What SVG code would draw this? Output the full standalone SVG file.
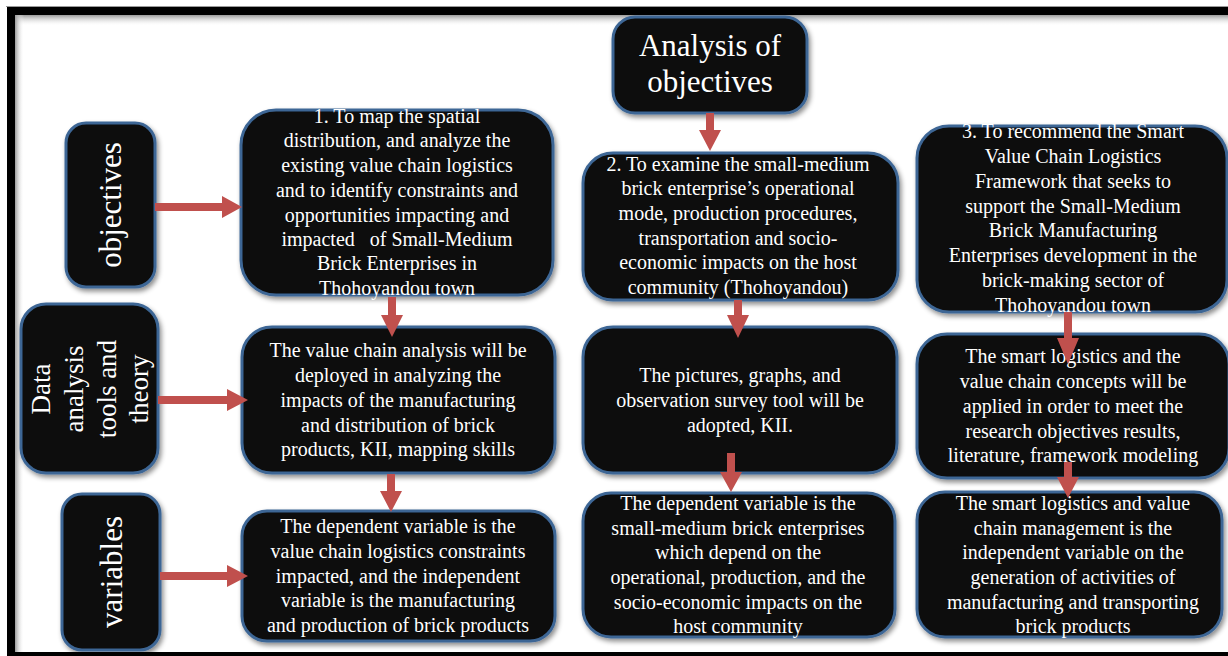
<svg xmlns="http://www.w3.org/2000/svg" width="1228" height="656" viewBox="0 0 1228 656">
  <defs>
    <filter id="shadow" x="-10%" y="-10%" width="125%" height="130%">
      <feDropShadow dx="2" dy="3" stdDeviation="2.5" flood-color="#000" flood-opacity="0.45"/>
    </filter>
    <linearGradient id="topShade" x1="0" y1="0" x2="0" y2="1">
      <stop offset="0" stop-color="#9a9a9a"/>
      <stop offset="1" stop-color="#ffffff" stop-opacity="0"/>
    </linearGradient>
    <linearGradient id="leftShade" x1="0" y1="0" x2="1" y2="0">
      <stop offset="0" stop-color="#9a9a9a"/>
      <stop offset="1" stop-color="#ffffff" stop-opacity="0"/>
    </linearGradient>
    <style>
      .box { fill: #0d0d0d; stroke: #3d6695; stroke-width: 3; filter: url(#shadow); }
      .t { font-family: "Liberation Serif", "Times New Roman", serif; fill: #ffffff; text-anchor: middle; }
      .body { font-size: 20px; }
      .big { font-size: 31px; }
      .mid { font-size: 27px; }
      .arrow { fill: #c0504d; }
    </style>
  </defs>

  <!-- page frame -->
  <rect x="0" y="0" width="1228" height="656" fill="#ffffff"/>
  <rect x="6" y="6" width="1222" height="1" fill="#9a9a9a"/>
  <rect x="7" y="7" width="1221" height="649" fill="#000000"/>
  <rect x="15" y="15" width="1213" height="637" fill="#ffffff"/>
  <rect x="15" y="15" width="1213" height="11" fill="url(#topShade)"/>
  <rect x="15" y="15" width="9" height="637" fill="url(#leftShade)"/>

  <!-- heading -->
  <g id="analysis">
    <rect class="box" x="613" y="17" width="194" height="96" rx="22"/>
    <text class="t big" x="710" y="56">Analysis of</text>
    <text class="t big" x="710" y="92">objectives</text>
  </g>

  <!-- row labels -->
  <g id="label-objectives">
    <rect class="box" x="66" y="123" width="89" height="164" rx="20"/>
    <text class="t big" transform="translate(121,205) rotate(-90)">objectives</text>
  </g>
  <g id="label-data">
    <rect class="box" x="21" y="304" width="137" height="169" rx="25"/>
    <g transform="translate(0,389) rotate(-90)">
      <text class="t mid" x="0" y="50">Data</text>
      <text class="t mid" x="0" y="83">analysis</text>
      <text class="t mid" x="0" y="116">tools and</text>
      <text class="t mid" x="0" y="148">theory</text>
    </g>
  </g>
  <g id="label-variables">
    <rect class="box" x="62" y="494" width="98" height="156" rx="20"/>
    <text class="t big" transform="translate(122,572) rotate(-90)">variables</text>
  </g>

  <!-- column 1 -->
  <g id="objective-1">
    <rect class="box" x="241" y="110" width="312" height="185" rx="35"/>
    <text class="t body" x="397" y="123">1. To map the spatial</text>
    <text class="t body" x="397" y="147">distribution, and analyze the</text>
    <text class="t body" x="397" y="172">existing value chain logistics</text>
    <text class="t body" x="397" y="197">and to identify constraints and</text>
    <text class="t body" x="397" y="222">opportunities impacting and</text>
    <text class="t body" x="397" y="246" xml:space="preserve">impacted   of Small-Medium</text>
    <text class="t body" x="397" y="270">Brick Enterprises in</text>
    <text class="t body" x="397" y="295">Thohoyandou town</text>
  </g>
  <g id="tools-1">
    <rect class="box" x="242" y="327" width="313" height="146" rx="30"/>
    <text class="t body" x="398" y="357">The value chain analysis will be</text>
    <text class="t body" x="398" y="382">deployed in analyzing the</text>
    <text class="t body" x="398" y="407">impacts of the manufacturing</text>
    <text class="t body" x="398" y="432">and distribution of brick</text>
    <text class="t body" x="398" y="456">products, KII, mapping skills</text>
  </g>
  <g id="variables-1">
    <rect class="box" x="242" y="511" width="313" height="130" rx="25"/>
    <text class="t body" x="398" y="533">The dependent variable is the</text>
    <text class="t body" x="398" y="558">value chain logistics constraints</text>
    <text class="t body" x="398" y="583">impacted, and the independent</text>
    <text class="t body" x="398" y="607">variable is the manufacturing</text>
    <text class="t body" x="398" y="632">and production of brick products</text>
  </g>

  <!-- column 2 -->
  <g id="objective-2">
    <rect class="box" x="583" y="153" width="315" height="147" rx="30"/>
    <text class="t body" x="738" y="171">2. To examine the small-medium</text>
    <text class="t body" x="738" y="195">brick enterprise’s operational</text>
    <text class="t body" x="738" y="220">mode, production procedures,</text>
    <text class="t body" x="738" y="245">transportation and socio-</text>
    <text class="t body" x="738" y="269">economic impacts on the host</text>
    <text class="t body" x="738" y="294">community (Thohoyandou)</text>
  </g>
  <g id="tools-2">
    <rect class="box" x="583" y="327" width="314" height="146" rx="30"/>
    <text class="t body" x="740" y="382">The pictures, graphs, and</text>
    <text class="t body" x="740" y="407">observation survey tool will be</text>
    <text class="t body" x="740" y="432">adopted, KII.</text>
  </g>
  <g id="variables-2">
    <rect class="box" x="583" y="493" width="312" height="144" rx="28"/>
    <text class="t body" x="738" y="510">The dependent variable is the</text>
    <text class="t body" x="738" y="535">small-medium brick enterprises</text>
    <text class="t body" x="738" y="559">which depend on the</text>
    <text class="t body" x="738" y="584">operational, production, and the</text>
    <text class="t body" x="738" y="609">socio-economic impacts on the</text>
    <text class="t body" x="738" y="633">host community</text>
  </g>

  <!-- column 3 -->
  <g id="objective-3">
    <rect class="box" x="917" y="126" width="310" height="186" rx="32"/>
    <text class="t body" x="1073" y="138">3. To recommend the Smart</text>
    <text class="t body" x="1073" y="163">Value Chain Logistics</text>
    <text class="t body" x="1073" y="188">Framework that seeks to</text>
    <text class="t body" x="1073" y="213">support the Small-Medium</text>
    <text class="t body" x="1073" y="237">Brick Manufacturing</text>
    <text class="t body" x="1073" y="262">Enterprises development in the</text>
    <text class="t body" x="1073" y="287">brick-making sector of</text>
    <text class="t body" x="1073" y="312">Thohoyandou town</text>
  </g>
  <g id="tools-3">
    <rect class="box" x="917" y="334" width="312" height="144" rx="30"/>
    <text class="t body" x="1073" y="363">The smart logistics and the</text>
    <text class="t body" x="1073" y="388">value chain concepts will be</text>
    <text class="t body" x="1073" y="413">applied in order to meet the</text>
    <text class="t body" x="1073" y="438">research objectives results,</text>
    <text class="t body" x="1073" y="462">literature, framework modeling</text>
  </g>
  <g id="variables-3">
    <rect class="box" x="917" y="492" width="305" height="145" rx="28"/>
    <text class="t body" x="1073" y="510">The smart logistics and value</text>
    <text class="t body" x="1073" y="535">chain management is the</text>
    <text class="t body" x="1073" y="559">independent variable on the</text>
    <text class="t body" x="1073" y="584">generation of activities of</text>
    <text class="t body" x="1073" y="609">manufacturing and transporting</text>
    <text class="t body" x="1073" y="633">brick products</text>
  </g>

  <!-- block arrows -->
  <g id="connectors">
    <path class="arrow" d="M155 203 H222 V196 L242 207 L222 218 V211 H155 Z"/>
    <path class="arrow" d="M158 396 H227 V389 L248 400 L227 411 V404 H158 Z"/>
    <path class="arrow" d="M160 572 H227 V565 L248 576 L227 587 V580 H160 Z"/>
    <path class="arrow" d="M706 113 V130 H699 L710 151 L721 130 H714 V113 Z"/>
    <path class="arrow" d="M388 297 V315 H381 L392 337 L403 315 H396 V297 Z"/>
    <path class="arrow" d="M387 474 V491 H380 L391 512 L402 491 H395 V474 Z"/>
    <path class="arrow" d="M734 300 V315 H727 L738 338 L749 315 H742 V300 Z"/>
    <path class="arrow" d="M727 453 V472 H720 L731 492 L742 472 H735 V453 Z"/>
    <path class="arrow" d="M1064 312 V338 H1057 L1068 364 L1079 338 H1072 V312 Z"/>
    <path class="arrow" d="M1064 462 V477 H1057 L1068 498 L1079 477 H1072 V462 Z"/>
  </g>
</svg>
